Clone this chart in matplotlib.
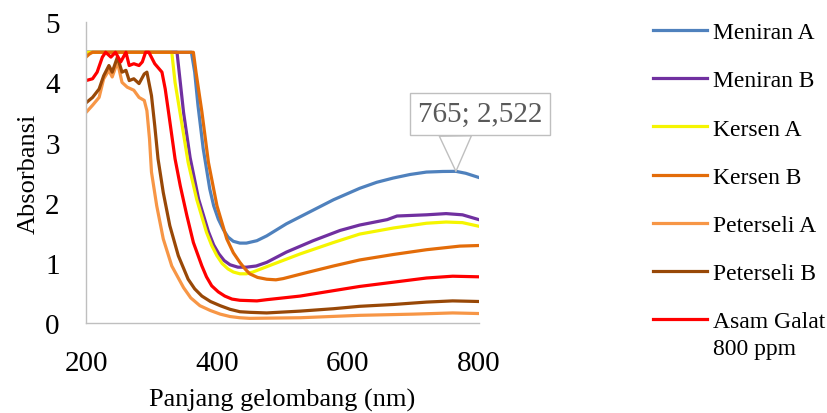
import matplotlib
matplotlib.use("Agg")
import matplotlib.pyplot as plt

plt.rcParams['font.family'] = ['Liberation Serif', 'DejaVu Serif']

# wavelength (nm) / absorbance
meniran_a_x = [200, 361, 366, 371, 379, 389, 395, 402, 410, 417, 425, 435, 445, 461, 476, 506,
               542, 578, 618, 644, 669, 695, 720, 745, 765, 780, 800]
meniran_a_y = [4.5, 4.5, 4.17, 3.62, 2.90, 2.23, 1.95, 1.73, 1.55, 1.43, 1.36, 1.33, 1.33, 1.37, 1.45, 1.65,
               1.85, 2.05, 2.24, 2.34, 2.41, 2.47, 2.51, 2.52, 2.522, 2.49, 2.42]

meniran_b_x = [200, 339, 342, 349, 359, 372, 387, 395, 403, 411, 420, 432, 445, 460, 476, 506,
               547, 588, 618, 660, 675, 720, 750, 775, 800]
meniran_b_y = [4.5, 4.5, 4.2, 3.5, 2.75, 2.06, 1.52, 1.30, 1.15, 1.04, 0.97, 0.93, 0.93, 0.95, 1.01, 1.18,
               1.37, 1.54, 1.63, 1.72, 1.78, 1.80, 1.82, 1.80, 1.72]

kersen_a_x = [200, 331, 336, 346, 356, 369, 384, 392, 400, 408, 417, 425, 435, 445, 455, 486,
              527, 578, 618, 669, 720, 750, 775, 800]
kersen_a_y = [4.5, 4.5, 4.0, 3.34, 2.67, 2.06, 1.51, 1.29, 1.12, 0.99, 0.90, 0.85, 0.82, 0.82, 0.85, 0.98,
              1.15, 1.34, 1.48, 1.58, 1.66, 1.68, 1.67, 1.61]

kersen_b_x = [200, 205, 210, 364, 368, 377, 387, 400, 415, 425, 435, 443, 450, 462, 476, 490,
              501, 537, 578, 618, 669, 720, 771, 800]
kersen_b_y = [4.42, 4.47, 4.5, 4.5, 4.17, 3.51, 2.67, 1.95, 1.40, 1.17, 1.01, 0.90, 0.82, 0.76, 0.73, 0.72,
              0.74, 0.84, 0.95, 1.05, 1.14, 1.22, 1.28, 1.29]

peterseli_a_x = [200, 210, 220, 227, 235, 240, 248, 255, 263, 273, 281, 289, 293, 297, 300,
                 308, 318, 331, 349, 360, 374, 390, 405, 420, 435, 450, 527, 618, 700, 760, 800]
peterseli_a_y = [3.50, 3.62, 3.75, 4.06, 4.2, 4.09, 4.34, 4.0, 3.92, 3.87, 3.75, 3.70, 3.53, 3.06, 2.51,
                 1.95, 1.40, 0.95, 0.59, 0.42, 0.29, 0.21, 0.15, 0.11, 0.09, 0.08, 0.09, 0.13, 0.15, 0.17, 0.16]

peterseli_b_x = [200, 210, 220, 227, 235, 240, 248, 255, 261, 266, 273, 281, 289, 293, 300,
                 305, 310, 318, 328, 341, 356, 366, 377, 390, 405, 420, 435, 450, 476, 527,
                 578, 618, 669, 720, 760, 800]
peterseli_b_y = [3.66, 3.75, 3.89, 4.11, 4.28, 4.17, 4.42, 4.17, 4.2, 4.03, 4.06, 3.98, 4.14, 4.17, 3.78,
                 3.28, 2.73, 2.17, 1.62, 1.12, 0.73, 0.57, 0.45, 0.36, 0.29, 0.23, 0.19, 0.18, 0.17, 0.20,
                 0.24, 0.28, 0.31, 0.35, 0.37, 0.36]

galat_x = [200, 210, 217, 225, 230, 238, 245, 253, 261, 266, 273, 281, 286, 291, 296,
           305, 316, 321, 326, 331, 336, 344, 354, 364, 377, 384, 392, 402, 412, 423,
           435, 461, 476, 527, 578, 618, 669, 720, 760, 800]
galat_y = [4.03, 4.06, 4.17, 4.42, 4.5, 4.42, 4.5, 4.34, 4.5, 4.28, 4.31, 4.28, 4.34, 4.5, 4.5,
           4.31, 4.17, 3.89, 3.51, 3.12, 2.73, 2.28, 1.79, 1.34, 0.95, 0.77, 0.62, 0.52, 0.45, 0.40,
           0.38, 0.37, 0.39, 0.45, 0.54, 0.61, 0.68, 0.75, 0.78, 0.77]

series = [
    ("Meniran A", meniran_a_x, meniran_a_y, "#4F81BD"),
    ("Meniran B", meniran_b_x, meniran_b_y, "#7030A0"),
    ("Kersen A", kersen_a_x, kersen_a_y, "#F5F500"),
    ("Kersen B", kersen_b_x, kersen_b_y, "#E36C09"),
    ("Peterseli A", peterseli_a_x, peterseli_a_y, "#F79646"),
    ("Peterseli B", peterseli_b_x, peterseli_b_y, "#984807"),
    ("Asam Galat", galat_x, galat_y, "#FF0000"),
]
last_label_extra = "800 ppm"

peak_x = 765
peak_y = 2.522

fig = plt.figure(figsize=(8.27, 4.14), dpi=100)
ax = fig.add_axes([0.104, 0.217, 0.475, 0.727])

for name, xs, ys, col in series:
    ax.plot(xs, ys, color=col, lw=2.3, label=name, solid_joinstyle='round')

ax.set_xlim(200, 800)
ax.set_ylim(0, 5)
ax.set_xticks([200, 400, 600, 800])
ax.set_yticks([0, 1, 2, 3, 4, 5])
ax.tick_params(length=0, labelsize=21)
ax.tick_params(axis='x', pad=19)
ax.tick_params(axis='y', pad=19)
for s in ['top', 'right']:
    ax.spines[s].set_visible(False)
for s in ['left', 'bottom']:
    ax.spines[s].set_color('#BFBFBF')
    ax.spines[s].set_linewidth(1.0)

ax.set_xlabel("Panjang gelombang (nm)", fontsize=19, labelpad=9)
ax.set_ylabel("Absorbansi", fontsize=19, labelpad=4)

ax.annotate("765; 2,522", xy=(peak_x, peak_y), xytext=(802, 3.47),
            fontsize=21, color='#595959', ha='center', va='center',
            bbox=dict(boxstyle='square,pad=0.28', fc='white', ec='#BFBFBF', lw=1.0),
            arrowprops=dict(arrowstyle='wedge,tail_width=1.1', fc='white', ec='#BFBFBF',
                            lw=1.0, shrinkA=0, shrinkB=0, relpos=(0.3, 0.0)),
            annotation_clip=False)

leg = fig.legend(loc='upper left', bbox_to_anchor=(0.778, 0.968), frameon=False,
                 fontsize=17, handlelength=2.3, handletextpad=0.25, labelspacing=1.13,
                 borderaxespad=0)

# second line of the last legend entry, placed under its first line
fig.canvas.draw()
renderer = fig.canvas.get_renderer()
last_txt = leg.get_texts()[-1]
bb = last_txt.get_window_extent(renderer).transformed(fig.transFigure.inverted())
fig.text(bb.x0, bb.y0 - 0.014, last_label_extra, fontsize=17, ha='left', va='top')

plt.savefig("out.png", dpi=100)
